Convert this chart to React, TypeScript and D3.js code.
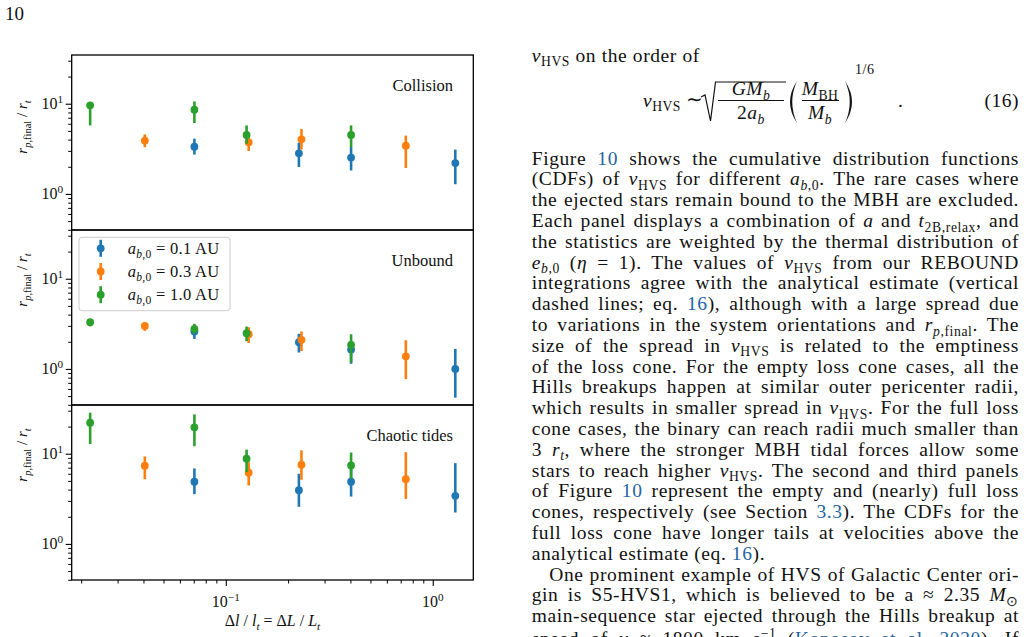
import React, { useEffect, useRef } from "react";
import * as d3 from "d3";

const W = 1028;
const H = 637;
const FONT = "'Liberation Serif', 'Times New Roman', serif";
const LINK = "#2464a0";
const COLORS = ["#1f77b4", "#ff7f0e", "#2ca02c"];

// x positions (Δl / l_t) for each binary separation
const xBlue = [0.0705, 0.2255, 0.403, 1.285];
const xOrange = [0.0406, 0.129, 0.232, 0.741];
const xGreen = [0.0221, 0.0705, 0.126, 0.403];

// [median, lower, upper] of r_p,final / r_t
const collisionBlue = [[3.34, 2.73, 4.1], [2.82, 1.99, 3.7], [2.53, 1.82, 3.31], [2.2, 1.28, 3.1]];
const collisionOrange = [[3.9, 3.29, 4.57], [3.73, 2.99, 4.27], [4.03, 3.1, 5.24], [3.43, 1.94, 4.43]];
const collisionGreen = [[9.6, 5.75, 10.3], [8.6, 6.1, 10.6], [4.5, 3.6, 5.75], [4.5, 3.31, 5.75]];

const unboundBlue = [[2.6, 2.15, 3.03], [1.98, 1.52, 2.45], [1.64, 1.14, 2.06], [1.0, 0.48, 1.67]];
const unboundOrange = [[3.0, 2.64, 3.29], [2.43, 1.94, 2.9], [2.1, 1.58, 2.6], [1.38, 0.77, 2.08]];
const unboundGreen = [[3.29, 2.97, 3.53], [2.78, 2.45, 3.16], [2.49, 2.03, 2.95], [1.85, 1.18, 2.42]];

const chaoticBlue = [[4.89, 3.56, 6.87], [3.94, 2.58, 6.0], [4.89, 3.35, 6.8], [3.41, 2.23, 7.86]];
const chaoticOrange = [[7.36, 5.22, 9.33], [6.15, 4.44, 8.07], [7.55, 5.14, 10.9], [5.22, 3.16, 10.4]];
const chaoticGreen = [[22.1, 12.8, 28.5], [19.6, 12.1, 27.3], [8.8, 6.25, 11.1], [7.41, 5.32, 10.3]];

const panelNames = ["Collision", "Unbound", "Chaotic tides"];
const legendA = ["0.1", "0.3", "1.0"];
const yMajor = [1, 10];
const xMajor = [0.1, 1];

// text column, {style:text} marks italic (i), subscript (s), superscript (p), link (l)
const bodyLines = [
  "Figure {l:10} shows the cumulative distribution functions",
  "(CDFs) of {i:v}{s:HVS} for different {i:a}{si:b}{s:,0}. The rare cases where",
  "the ejected stars remain bound to the MBH are excluded.",
  "Each panel displays a combination of {i:a} and {i:t}{s:2B,relax}, and",
  "the statistics are weighted by the thermal distribution of",
  "{i:e}{si:b}{s:,0} ({i:η} = 1). The values of {i:v}{s:HVS} from our REBOUND",
  "integrations agree with the analytical estimate (vertical",
  "dashed lines; eq. {l:16}), although with a large spread due",
  "to variations in the system orientations and {i:r}{si:p}{s:,final}. The",
  "size of the spread in {i:v}{s:HVS} is related to the emptiness",
  "of the loss cone. For the empty loss cone cases, all the",
  "Hills breakups happen at similar outer pericenter radii,",
  "which results in smaller spread in {i:v}{s:HVS}. For the full loss",
  "cone cases, the binary can reach radii much smaller than",
  "3 {i:r}{si:t}, where the stronger MBH tidal forces allow some",
  "stars to reach higher {i:v}{s:HVS}. The second and third panels",
  "of Figure {l:10} represent the empty and (nearly) full loss",
  "cones, respectively (see Section {l:3.3}). The CDFs for the",
  "full loss cone have longer tails at velocities above the",
  "analytical estimate (eq. {l:16}).",
  "One prominent example of HVS of Galactic Center ori-",
  "gin is S5-HVS1, which is believed to be a ≈ 2.35 {i:M}{s:⊙}",
  "main-sequence star ejected through the Hills breakup at",
  "speed of {i:v} ≈ 1800 km s{p:−1} ({l:Koposov et al. 2020}). If",
];

const parse = (s) => {
  const out = [];
  const re = /\{(\w+):([^}]*)\}/g;
  let last = 0;
  let m;
  while ((m = re.exec(s)) !== null) {
    if (m.index > last) out.push([s.slice(last, m.index), ""]);
    out.push([m[2], m[1]]);
    last = re.lastIndex;
  }
  if (last < s.length) out.push([s.slice(last), ""]);
  return out;
};

// text with italic / sub / superscript runs
const rich = (parent, x, y, markup, size, anchor = "start") => {
  const t = parent
    .append("text")
    .attr("x", x)
    .attr("y", y)
    .attr("font-size", size)
    .attr("text-anchor", anchor)
    .style("white-space", "pre");
  let shift = 0;
  parse(markup).forEach(([str, st]) => {
    const sub = st.includes("s");
    const sup = st.includes("p");
    const target = sub ? size * 0.24 : sup ? -size * 0.4 : 0;
    const ts = t.append("tspan").attr("dy", target - shift).text(str);
    shift = target;
    if (sub || sup) ts.attr("font-size", size * 0.7);
    if (st.includes("i")) ts.attr("font-style", "italic");
    if (st.includes("l")) ts.attr("fill", LINK);
  });
  return t;
};

const justify = (t, width, text) => {
  const len = t.node().getComputedTextLength();
  const spaces = (text.match(/ /g) || []).length;
  if (spaces > 0) t.attr("word-spacing", (width - len) / spaces);
};

const App = () => {
  const svgRef = useRef(null);

  useEffect(() => {
    const svg = d3.select(svgRef.current);
    svg.selectAll("*").remove();

    const left = 71.7;
    const right = 473.3;
    const panelH = 175;
    const top0 = 55;

    const x = d3.scaleLog().domain([0.018, 1.57]).range([left, right]);
    const xs = [xBlue, xOrange, xGreen];
    const panels = [
      [collisionBlue, collisionOrange, collisionGreen],
      [unboundBlue, unboundOrange, unboundGreen],
      [chaoticBlue, chaoticOrange, chaoticGreen],
    ];
    const labelY = [127, 280, 455];

    panels.forEach((series, k) => {
      const top = top0 + panelH * k;
      const bottom = top + panelH;
      const y = d3.scaleLog().domain([0.398, 34.7]).range([bottom, top]);
      const g = svg.append("g");

      // y ticks
      const minor = y.ticks().filter((v) => !yMajor.includes(v));
      g.append("g")
        .attr("transform", `translate(${left},0)`)
        .call(d3.axisLeft(y).tickValues(minor).tickSize(3.5).tickFormat(() => ""))
        .call((a) => a.select(".domain").remove())
        .call((a) => a.selectAll("line").attr("stroke", "#000").attr("stroke-width", 1));
      g.append("g")
        .attr("transform", `translate(${left},0)`)
        .call(d3.axisLeft(y).tickValues(yMajor).tickSize(6).tickFormat(() => ""))
        .call((a) => a.select(".domain").remove())
        .call((a) => a.selectAll("line").attr("stroke", "#000").attr("stroke-width", 1.1));
      yMajor.forEach((v) => {
        rich(g, 63, y(v) + 5.5, `10{p:${Math.round(Math.log10(v))}}`, 16, "end").attr("fill", "#111");
      });

      // y label
      const yl = g.append("g").attr("transform", `translate(27,${labelY[k]}) rotate(-90)`);
      rich(yl, 0, 0, "{i:r}{si:p}{s:,final} / {i:r}{si:t}", 15, "middle").attr("fill", "#111");

      // error bars, blue then orange then green
      series.forEach((pts, s) => {
        const sg = g.append("g");
        sg.selectAll("line")
          .data(pts)
          .join("line")
          .attr("x1", (d, i) => x(xs[s][i]))
          .attr("x2", (d, i) => x(xs[s][i]))
          .attr("y1", (d) => y(d[1]))
          .attr("y2", (d) => y(d[2]))
          .attr("stroke", COLORS[s])
          .attr("stroke-width", 2.6);
        sg.selectAll("circle")
          .data(pts)
          .join("circle")
          .attr("cx", (d, i) => x(xs[s][i]))
          .attr("cy", (d) => y(d[0]))
          .attr("r", 3.9)
          .attr("fill", COLORS[s]);
      });

      g.append("text")
        .attr("x", 453)
        .attr("y", top + 35.5)
        .attr("text-anchor", "end")
        .attr("font-size", 16.5)
        .attr("fill", "#111")
        .text(panelNames[k]);

      g.append("rect")
        .attr("x", left)
        .attr("y", top)
        .attr("width", right - left)
        .attr("height", panelH)
        .attr("fill", "none")
        .attr("stroke", "#000")
        .attr("stroke-width", 1.3);

      // legend in the middle panel
      if (k === 1) {
        const lg = g.append("g");
        lg.append("rect")
          .attr("x", 79)
          .attr("y", 237.3)
          .attr("width", 151)
          .attr("height", 73.4)
          .attr("rx", 3)
          .attr("fill", "#fff")
          .attr("fill-opacity", 0.8)
          .attr("stroke", "#cccccc");
        legendA.forEach((a, i) => {
          const cy = 248.3 + 23.2 * i;
          lg.append("line")
            .attr("x1", 100.7)
            .attr("x2", 100.7)
            .attr("y1", cy - 8.5)
            .attr("y2", cy + 8.5)
            .attr("stroke", COLORS[i])
            .attr("stroke-width", 2.6);
          lg.append("circle").attr("cx", 100.7).attr("cy", cy).attr("r", 3.9).attr("fill", COLORS[i]);
          rich(lg, 127.7, cy + 5.5, `{i:a}{si:b}{s:,0} = ${a} AU`, 16.5)
            .attr("fill", "#111")
            .attr("letter-spacing", 0.3);
        });
      }

      // shared x axis on the bottom panel
      if (k === 2) {
        const minorX = x.ticks().filter((v) => !xMajor.includes(v));
        g.append("g")
          .attr("transform", `translate(0,${bottom})`)
          .call(d3.axisBottom(x).tickValues(minorX).tickSize(3.5).tickFormat(() => ""))
          .call((a) => a.select(".domain").remove())
          .call((a) => a.selectAll("line").attr("stroke", "#000").attr("stroke-width", 1));
        g.append("g")
          .attr("transform", `translate(0,${bottom})`)
          .call(d3.axisBottom(x).tickValues(xMajor).tickSize(6).tickFormat(() => ""))
          .call((a) => a.select(".domain").remove())
          .call((a) => a.selectAll("line").attr("stroke", "#000").attr("stroke-width", 1.1));
        xMajor.forEach((v) => {
          const e = Math.round(Math.log10(v));
          rich(g, x(v), 607, `10{p:${e < 0 ? "−" + -e : e}}`, 16, "middle").attr("fill", "#111");
        });
        rich(g, (left + right) / 2, 626, "Δ{i:l} / {i:l}{si:t} = Δ{i:L} / {i:L}{si:t}", 16, "middle").attr(
          "fill",
          "#111"
        );
      }
    });

    // page number
    svg.append("text").attr("x", 5).attr("y", 20).attr("font-size", 19).attr("fill", "#111").text("10");

    // text column
    const col = svg.append("g").attr("fill", "#111");
    const colL = 531.7;
    const colR = 1019;
    const fs = 19.5;
    rich(col, colL, 61.5, "{i:v}{s:HVS} on the order of", fs).attr("letter-spacing", 0.6);

    // display equation (16)
    const eq = col.append("g").attr("letter-spacing", 0.5);
    rich(eq, 643, 106.5, "{i:v}{s:HVS}", fs);
    eq.append("text").attr("x", 686).attr("y", 106).attr("font-size", fs).text("∼");
    eq.append("path")
      .attr("d", "M701,97 L705,95 L710.5,121 L715.5,82 L786,82")
      .attr("fill", "none")
      .attr("stroke", "#111")
      .attr("stroke-width", 1.2);
    rich(eq, 751, 95, "{i:GM}{si:b}", fs, "middle");
    eq.append("line").attr("x1", 718).attr("x2", 784).attr("y1", 100.5).attr("y2", 100.5).attr("stroke", "#111");
    rich(eq, 751, 119, "2{i:a}{si:b}", fs, "middle");
    eq.append("path").attr("d", "M797,81 Q783,102 797,123 Q787.5,102 797,81 Z").attr("fill", "#111");
    rich(eq, 820, 95, "{i:M}{s:BH}", fs, "middle");
    eq.append("line").attr("x1", 802).attr("x2", 839).attr("y1", 100.5).attr("y2", 100.5).attr("stroke", "#111");
    rich(eq, 820, 119, "{i:M}{si:b}", fs, "middle");
    eq.append("path").attr("d", "M845,81 Q859,102 845,123 Q854.5,102 845,81 Z").attr("fill", "#111");
    eq.append("text").attr("x", 855).attr("y", 74).attr("font-size", 14).text("1/6");
    eq.append("text").attr("x", 898).attr("y", 106.5).attr("font-size", fs).text(".");
    eq.append("text").attr("x", colR).attr("y", 106.5).attr("font-size", fs).attr("text-anchor", "end").text("(16)");

    bodyLines.forEach((line, i) => {
      const indent = i === 20 ? 17.6 : 0;
      const extra = i === bodyLines.length - 1 ? 2.5 : 0;
      const t = rich(col, colL + indent, 164.5 + 20.8 * i + extra, line, fs).attr("letter-spacing", 0.6);
      if (i !== 19) {
        const plain = parse(line)
          .map((d) => d[0])
          .join("");
        justify(t, colR - colL - indent, plain);
      }
    });
  }, []);

  return (
    <svg
      ref={svgRef}
      width={W}
      height={H}
      style={{ position: "absolute", left: 0, top: 0, background: "#fff", fontFamily: FONT }}
    ></svg>
  );
};

export default App;
